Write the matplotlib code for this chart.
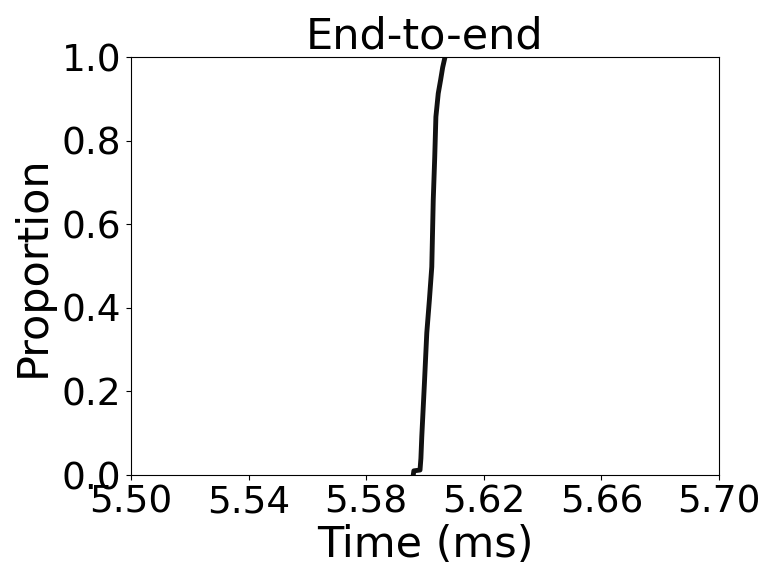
# ECDF of end-to-end time

import matplotlib
matplotlib.use("Agg")
from matplotlib import pyplot as plt

# points (time in ms, cumulative proportion)
tempos = [5.5960, 5.5962, 5.5983, 5.5986, 5.5989, 5.5998, 5.6006, 5.6015,
          5.6023, 5.6028, 5.6033, 5.6037, 5.6045, 5.6053, 5.6060, 5.6068]
proporcao = [0.000, 0.010, 0.012, 0.040, 0.092, 0.220, 0.340, 0.420,
             0.498, 0.658, 0.760, 0.857, 0.913, 0.945, 0.975, 1.000]

xticks = [5.50, 5.54, 5.58, 5.62, 5.66, 5.70]
yticks = [0.0, 0.2, 0.4, 0.6, 0.8, 1.0]

fig = plt.figure(figsize=(7.77, 5.83), dpi=100)
ax = fig.add_axes([0.1686, 0.1852, 0.7568, 0.717])
ax.plot(tempos, proporcao, color="#111111", linewidth=3.5)
ax.set_xlim(5.50, 5.70)
ax.set_ylim(0.0, 1.0)
ax.set_xticks(xticks)
ax.set_xticklabels([f"{t:.2f}" for t in xticks])
ax.set_yticks(yticks)
ax.set_yticklabels([f"{t:.1f}" for t in yticks])
ax.tick_params(labelsize=27)
ax.set_xlabel("Time (ms)", fontsize=31, labelpad=2)
ax.set_ylabel("Proportion", fontsize=31, labelpad=6)
ax.set_title("End-to-end", fontsize=31, pad=5)
fig.savefig("out.png", dpi=100)
plt.close(fig)
